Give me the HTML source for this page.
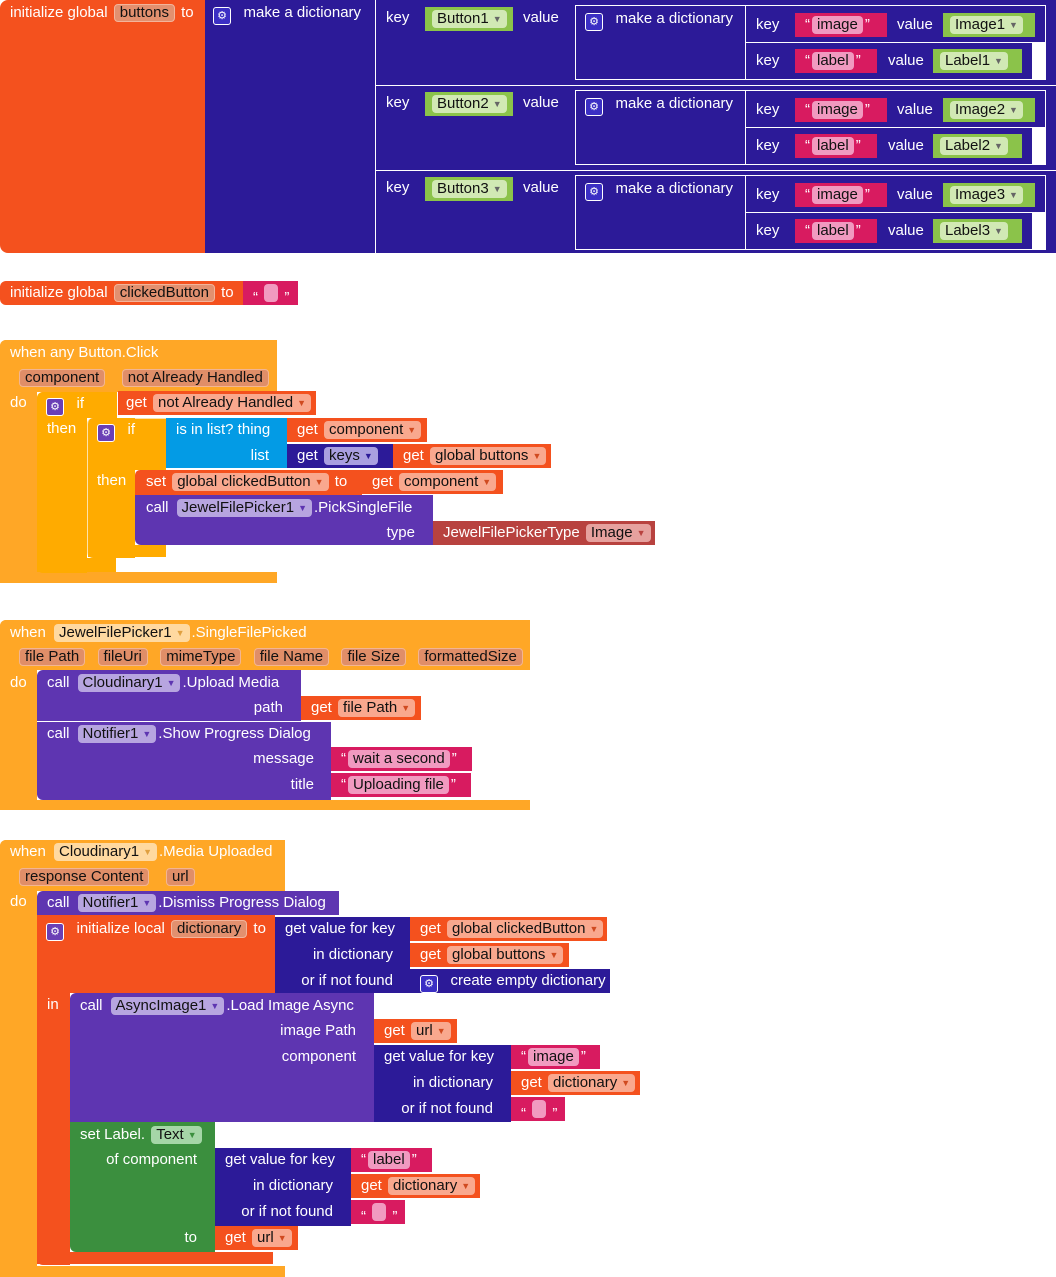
<!DOCTYPE html>
<html><head><meta charset="utf-8"><style>
body{margin:0;width:1056px;height:1277px;background:#fff;position:relative;overflow:hidden;font-family:"Liberation Sans",sans-serif}
.r{position:absolute}
.t{position:absolute;color:#fff;font-size:15px;line-height:18px;height:18px;white-space:nowrap}
.f{display:inline-block;height:18px;line-height:18px;padding:0 5px;border-radius:4px;color:#111;margin:0 2px}
.o{background:#f4511e}.n{background:#2c1a98}.g{background:#8bc34a}.m{background:#d81b60}
.e{background:#ffa726}.a{background:#ffab00}.bl{background:#039be5}.p{background:#5e35b1}
.en{background:#b8423f}.sg{background:#3b8f3e}
.fo{background:#f9a88e}.fi{background:#e2906f;border:1px solid #f3b49b;height:16px;line-height:16px}
.fn{background:#a99fe0}.fg{background:#d1e9b4}.fm{background:#f19ac0}
.fe{background:#e08e68;border:1px solid #f3b592;height:16px;line-height:16px}.fy{background:#ffd9a0}
.fp{background:#b7a5e0}.fen{background:#e6a19e}.fsg{background:#a5d6a7}
.dd{font-size:9px;color:#666;margin-left:4px;vertical-align:1px}
.gear{display:inline-block;width:16px;height:16px;border:1px solid #fff;border-radius:3px;background:#3b2fc4;color:#fff;font-size:11px;line-height:16px;text-align:center;vertical-align:-2px}
.gp{background:#6a3fb5}
.w{position:absolute;background:#fff}
</style></head><body>

<!-- BLOCK 1 -->
<div class="r o" style="left:0;top:0;width:206px;height:253px;border-radius:8px 0 0 8px"></div>
<div class="r n" style="left:205px;top:0;width:851px;height:253px"></div>
<div class="t" style="left:10px;top:4px">initialize global <span class="f fi">buttons</span> to</div>
<div class="t" style="left:213px;top:4px"><span class="gear">⚙</span>&nbsp;&nbsp; make a dictionary</div>
<div class="w" style="left:375px;top:0;width:1px;height:253px"></div>
<div class="w" style="left:375px;top:85px;width:681px;height:1px"></div>
<div class="w" style="left:375px;top:170px;width:681px;height:1px"></div>

<!-- row 1 -->
<div class="t" style="left:386px;top:9px">key</div>
<div class="r g" style="left:425px;top:7px;width:88px;height:24px"></div>
<div class="t" style="left:430px;top:10px"><span class="f fg">Button1<span class="dd">▼</span></span></div>
<div class="t" style="left:523px;top:9px">value</div>
<div class="w" style="left:575px;top:5px;width:471px;height:1px"></div>
<div class="w" style="left:575px;top:5px;width:1px;height:74px"></div>
<div class="w" style="left:575px;top:79px;width:471px;height:1px"></div>
<div class="w" style="left:745px;top:5px;width:1px;height:74px"></div>
<div class="w" style="left:745px;top:42px;width:301px;height:1px"></div>
<div class="w" style="left:1032px;top:42px;width:14px;height:38px"></div>
<div class="w" style="left:1045px;top:5px;width:1px;height:38px"></div>
<div class="t" style="left:585px;top:10px"><span class="gear">⚙</span>&nbsp;&nbsp; make a dictionary</div>
<div class="t" style="left:756px;top:16px">key</div>
<div class="r m" style="left:795px;top:13px;width:92px;height:24px"></div>
<div class="t" style="left:805px;top:16px">“<span class="f fm">image</span>”</div>
<div class="t" style="left:897px;top:16px">value</div>
<div class="r g" style="left:943px;top:13px;width:92px;height:24px"></div>
<div class="t" style="left:948px;top:16px"><span class="f fg">Image1<span class="dd">▼</span></span></div>
<div class="t" style="left:756px;top:52px">key</div>
<div class="r m" style="left:795px;top:49px;width:82px;height:24px"></div>
<div class="t" style="left:805px;top:52px">“<span class="f fm">label</span>”</div>
<div class="t" style="left:888px;top:52px">value</div>
<div class="r g" style="left:933px;top:49px;width:89px;height:24px"></div>
<div class="t" style="left:938px;top:52px"><span class="f fg">Label1<span class="dd">▼</span></span></div>

<!-- row 2 -->
<div class="t" style="left:386px;top:94px">key</div>
<div class="r g" style="left:425px;top:92px;width:88px;height:24px"></div>
<div class="t" style="left:430px;top:95px"><span class="f fg">Button2<span class="dd">▼</span></span></div>
<div class="t" style="left:523px;top:94px">value</div>
<div class="w" style="left:575px;top:90px;width:471px;height:1px"></div>
<div class="w" style="left:575px;top:90px;width:1px;height:74px"></div>
<div class="w" style="left:575px;top:164px;width:471px;height:1px"></div>
<div class="w" style="left:745px;top:90px;width:1px;height:74px"></div>
<div class="w" style="left:745px;top:127px;width:301px;height:1px"></div>
<div class="w" style="left:1032px;top:127px;width:14px;height:38px"></div>
<div class="w" style="left:1045px;top:90px;width:1px;height:38px"></div>
<div class="t" style="left:585px;top:95px"><span class="gear">⚙</span>&nbsp;&nbsp; make a dictionary</div>
<div class="t" style="left:756px;top:101px">key</div>
<div class="r m" style="left:795px;top:98px;width:92px;height:24px"></div>
<div class="t" style="left:805px;top:101px">“<span class="f fm">image</span>”</div>
<div class="t" style="left:897px;top:101px">value</div>
<div class="r g" style="left:943px;top:98px;width:92px;height:24px"></div>
<div class="t" style="left:948px;top:101px"><span class="f fg">Image2<span class="dd">▼</span></span></div>
<div class="t" style="left:756px;top:137px">key</div>
<div class="r m" style="left:795px;top:134px;width:82px;height:24px"></div>
<div class="t" style="left:805px;top:137px">“<span class="f fm">label</span>”</div>
<div class="t" style="left:888px;top:137px">value</div>
<div class="r g" style="left:933px;top:134px;width:89px;height:24px"></div>
<div class="t" style="left:938px;top:137px"><span class="f fg">Label2<span class="dd">▼</span></span></div>

<!-- row 3 -->
<div class="t" style="left:386px;top:179px">key</div>
<div class="r g" style="left:425px;top:177px;width:88px;height:24px"></div>
<div class="t" style="left:430px;top:180px"><span class="f fg">Button3<span class="dd">▼</span></span></div>
<div class="t" style="left:523px;top:179px">value</div>
<div class="w" style="left:575px;top:175px;width:471px;height:1px"></div>
<div class="w" style="left:575px;top:175px;width:1px;height:74px"></div>
<div class="w" style="left:575px;top:249px;width:471px;height:1px"></div>
<div class="w" style="left:745px;top:175px;width:1px;height:74px"></div>
<div class="w" style="left:745px;top:212px;width:301px;height:1px"></div>
<div class="w" style="left:1032px;top:212px;width:14px;height:38px"></div>
<div class="w" style="left:1045px;top:175px;width:1px;height:38px"></div>
<div class="t" style="left:585px;top:180px"><span class="gear">⚙</span>&nbsp;&nbsp; make a dictionary</div>
<div class="t" style="left:756px;top:186px">key</div>
<div class="r m" style="left:795px;top:183px;width:92px;height:24px"></div>
<div class="t" style="left:805px;top:186px">“<span class="f fm">image</span>”</div>
<div class="t" style="left:897px;top:186px">value</div>
<div class="r g" style="left:943px;top:183px;width:92px;height:24px"></div>
<div class="t" style="left:948px;top:186px"><span class="f fg">Image3<span class="dd">▼</span></span></div>
<div class="t" style="left:756px;top:222px">key</div>
<div class="r m" style="left:795px;top:219px;width:82px;height:24px"></div>
<div class="t" style="left:805px;top:222px">“<span class="f fm">label</span>”</div>
<div class="t" style="left:888px;top:222px">value</div>
<div class="r g" style="left:933px;top:219px;width:89px;height:24px"></div>
<div class="t" style="left:938px;top:222px"><span class="f fg">Label3<span class="dd">▼</span></span></div>

<!-- BLOCK 2 -->
<div class="r o" style="left:0;top:281px;width:244px;height:24px;border-radius:6px 0 0 6px"></div>
<div class="t" style="left:10px;top:284px">initialize global <span class="f fi">clickedButton</span> to</div>
<div class="r m" style="left:243px;top:281px;width:55px;height:24px"></div>
<div class="t" style="left:253px;top:284px">“ <span class="f fm" style="padding:0 7px"></span> ”</div>

<!-- BLOCK 3 -->
<div class="r e" style="left:0;top:340px;width:277px;height:52px;border-radius:6px 0 0 0"></div>
<div class="r e" style="left:0;top:340px;width:37px;height:243px;border-radius:6px 0 0 6px"></div>
<div class="r e" style="left:0;top:572px;width:277px;height:11px"></div>
<div class="t" style="left:10px;top:344px">when any Button.Click</div>
<div class="t" style="left:17px;top:369px"><span class="f fe">component</span> &nbsp; <span class="f fe">not Already Handled</span></div>
<div class="t" style="left:10px;top:394px">do</div>
<div class="r a" style="left:37px;top:392px;width:80px;height:26px;border-radius:6px 0 0 0"></div>
<div class="r a" style="left:37px;top:392px;width:50px;height:181px;border-radius:6px 0 0 6px"></div>
<div class="r a" style="left:37px;top:558px;width:79px;height:14px"></div>
<div class="t" style="left:46px;top:395px"><span class="gear gp">⚙</span>&nbsp;&nbsp; if</div>
<div class="t" style="left:47px;top:420px">then</div>
<div class="r o" style="left:118px;top:391px;width:198px;height:24px"></div>
<div class="t" style="left:126px;top:394px">get <span class="f fo">not Already Handled<span class="dd" style="color:#d04a20">▼</span></span></div>
<div class="r a" style="left:87px;top:418px;width:79px;height:52px;border-radius:6px 0 0 0;border-left:1px solid #ffe2a8;border-top:1px solid #ffe2a8;box-sizing:border-box"></div>
<div class="r a" style="left:87px;top:418px;width:48px;height:140px;border-radius:6px 0 0 6px;border-left:1px solid #ffe2a8;box-sizing:border-box"></div>
<div class="r a" style="left:88px;top:545px;width:78px;height:12px"></div>
<div class="t" style="left:97px;top:421px"><span class="gear gp">⚙</span>&nbsp;&nbsp; if</div>
<div class="t" style="left:97px;top:472px">then</div>
<div class="r bl" style="left:166px;top:418px;width:121px;height:50px"></div>
<div class="t" style="left:176px;top:421px">is in list? thing</div>
<div class="t" style="left:166px;top:447px;width:103px;text-align:right">list</div>
<div class="r o" style="left:287px;top:418px;width:140px;height:24px"></div>
<div class="t" style="left:297px;top:421px">get <span class="f fo">component<span class="dd" style="color:#d04a20">▼</span></span></div>
<div class="r n" style="left:287px;top:444px;width:106px;height:24px"></div>
<div class="t" style="left:297px;top:447px">get <span class="f fn">keys<span class="dd" style="color:#2c1a98">▼</span></span></div>
<div class="r o" style="left:393px;top:444px;width:158px;height:24px"></div>
<div class="t" style="left:403px;top:447px">get <span class="f fo">global buttons<span class="dd" style="color:#d04a20">▼</span></span></div>
<div class="r o" style="left:135px;top:470px;width:227px;height:25px;border-radius:5px 0 0 0"></div>
<div class="t" style="left:146px;top:473px">set <span class="f fo">global clickedButton<span class="dd" style="color:#d04a20">▼</span></span> to</div>
<div class="r o" style="left:362px;top:470px;width:141px;height:24px"></div>
<div class="t" style="left:372px;top:473px">get <span class="f fo">component<span class="dd" style="color:#d04a20">▼</span></span></div>
<div class="r p" style="left:135px;top:495px;width:298px;height:50px;border-radius:0 0 0 6px"></div>
<div class="t" style="left:146px;top:499px">call<span class="f fp" style="margin-left:8px">JewelFilePicker1<span class="dd" style="color:#5e35b1">▼</span></span>.PickSingleFile</div>
<div class="t" style="left:135px;top:524px;width:280px;text-align:right">type</div>
<div class="r en" style="left:433px;top:521px;width:222px;height:24px"></div>
<div class="t" style="left:443px;top:524px">JewelFilePickerType <span class="f fen">Image<span class="dd" style="color:#b8423f">▼</span></span></div>

<!-- BLOCK 4 -->
<div class="r e" style="left:0;top:620px;width:530px;height:50px;border-radius:6px 0 0 0"></div>
<div class="r e" style="left:0;top:620px;width:37px;height:190px;border-radius:6px 0 0 6px"></div>
<div class="r e" style="left:0;top:800px;width:530px;height:10px"></div>
<div class="t" style="left:10px;top:624px">when <span class="f fy" style="margin-left:4px">JewelFilePicker1<span class="dd" style="color:#e0a040">▼</span></span>.SingleFilePicked</div>
<div class="t" style="left:17px;top:648px"><span class="f fe">file Path</span>&nbsp;&nbsp;<span class="f fe">fileUri</span>&nbsp;&nbsp;<span class="f fe">mimeType</span>&nbsp;&nbsp;<span class="f fe">file Name</span>&nbsp;&nbsp;<span class="f fe">file Size</span>&nbsp;&nbsp;<span class="f fe">formattedSize</span></div>
<div class="t" style="left:10px;top:674px">do</div>
<div class="r p" style="left:37px;top:670px;width:264px;height:51px;border-radius:6px 0 0 0"></div>
<div class="t" style="left:47px;top:674px">call<span class="f fp" style="margin-left:8px">Cloudinary1<span class="dd" style="color:#5e35b1">▼</span></span>.Upload Media</div>
<div class="t" style="left:37px;top:699px;width:246px;text-align:right">path</div>
<div class="r o" style="left:301px;top:696px;width:120px;height:24px"></div>
<div class="t" style="left:311px;top:699px">get <span class="f fo">file Path<span class="dd" style="color:#d04a20">▼</span></span></div>
<div class="r p" style="left:37px;top:722px;width:294px;height:78px;border-radius:0 0 0 6px"></div>
<div class="t" style="left:47px;top:725px">call<span class="f fp" style="margin-left:8px">Notifier1<span class="dd" style="color:#5e35b1">▼</span></span>.Show Progress Dialog</div>
<div class="t" style="left:37px;top:750px;width:277px;text-align:right">message</div>
<div class="t" style="left:37px;top:776px;width:277px;text-align:right">title</div>
<div class="r m" style="left:331px;top:747px;width:141px;height:24px"></div>
<div class="t" style="left:341px;top:750px">“<span class="f fm">wait a second</span>”</div>
<div class="r m" style="left:331px;top:773px;width:140px;height:24px"></div>
<div class="t" style="left:341px;top:776px">“<span class="f fm">Uploading file</span>”</div>

<!-- BLOCK 5 -->
<div class="r e" style="left:0;top:840px;width:285px;height:51px;border-radius:6px 0 0 0"></div>
<div class="r e" style="left:0;top:840px;width:37px;height:437px;border-radius:6px 0 0 6px"></div>
<div class="r e" style="left:0;top:1266px;width:285px;height:11px"></div>
<div class="t" style="left:10px;top:843px">when <span class="f fy" style="margin-left:4px">Cloudinary1<span class="dd" style="color:#e0a040">▼</span></span>.Media Uploaded</div>
<div class="t" style="left:17px;top:868px"><span class="f fe">response Content</span>&nbsp;&nbsp;&nbsp;<span class="f fe">url</span></div>
<div class="t" style="left:10px;top:893px">do</div>
<div class="r p" style="left:37px;top:891px;width:302px;height:24px;border-radius:6px 0 0 0"></div>
<div class="t" style="left:47px;top:894px">call<span class="f fp" style="margin-left:8px">Notifier1<span class="dd" style="color:#5e35b1">▼</span></span>.Dismiss Progress Dialog</div>

<div class="r o" style="left:37px;top:915px;width:238px;height:78px"></div>
<div class="r o" style="left:37px;top:915px;width:33px;height:350px;border-radius:0 0 0 6px"></div>
<div class="r o" style="left:37px;top:1252px;width:236px;height:12px"></div>
<div class="t" style="left:46px;top:920px"><span class="gear gp">⚙</span>&nbsp;&nbsp; initialize local <span class="f fi">dictionary</span> to</div>
<div class="t" style="left:47px;top:996px">in</div>
<div class="r n" style="left:275px;top:917px;width:135px;height:76px"></div>
<div class="t" style="left:285px;top:920px">get value for key</div>
<div class="t" style="left:275px;top:946px;width:118px;text-align:right">in dictionary</div>
<div class="t" style="left:275px;top:972px;width:118px;text-align:right">or if not found</div>
<div class="r o" style="left:410px;top:917px;width:197px;height:24px"></div>
<div class="t" style="left:420px;top:920px">get <span class="f fo">global clickedButton<span class="dd" style="color:#d04a20">▼</span></span></div>
<div class="r o" style="left:410px;top:943px;width:159px;height:24px"></div>
<div class="t" style="left:420px;top:946px">get <span class="f fo">global buttons<span class="dd" style="color:#d04a20">▼</span></span></div>
<div class="r n" style="left:410px;top:969px;width:200px;height:24px"></div>
<div class="t" style="left:420px;top:972px"><span class="gear">⚙</span>&nbsp;&nbsp; create empty dictionary</div>

<div class="r p" style="left:70px;top:993px;width:304px;height:129px;border-radius:6px 0 0 0"></div>
<div class="t" style="left:80px;top:997px">call<span class="f fp" style="margin-left:8px">AsyncImage1<span class="dd" style="color:#5e35b1">▼</span></span>.Load Image Async</div>
<div class="t" style="left:70px;top:1022px;width:286px;text-align:right">image Path</div>
<div class="t" style="left:70px;top:1048px;width:286px;text-align:right">component</div>
<div class="r o" style="left:374px;top:1019px;width:83px;height:24px"></div>
<div class="t" style="left:384px;top:1022px">get <span class="f fo">url<span class="dd" style="color:#d04a20">▼</span></span></div>
<div class="r n" style="left:374px;top:1045px;width:137px;height:77px"></div>
<div class="t" style="left:384px;top:1048px">get value for key</div>
<div class="t" style="left:374px;top:1074px;width:119px;text-align:right">in dictionary</div>
<div class="t" style="left:374px;top:1100px;width:119px;text-align:right">or if not found</div>
<div class="r m" style="left:511px;top:1045px;width:89px;height:24px"></div>
<div class="t" style="left:521px;top:1048px">“<span class="f fm">image</span>”</div>
<div class="r o" style="left:511px;top:1071px;width:129px;height:24px"></div>
<div class="t" style="left:521px;top:1074px">get <span class="f fo">dictionary<span class="dd" style="color:#d04a20">▼</span></span></div>
<div class="r m" style="left:511px;top:1097px;width:54px;height:24px"></div>
<div class="t" style="left:521px;top:1100px">“ <span class="f fm" style="padding:0 7px"></span> ”</div>

<div class="r sg" style="left:70px;top:1122px;width:145px;height:130px;border-radius:0 0 0 6px"></div>
<div class="t" style="left:80px;top:1126px">set Label. <span class="f fsg">Text<span class="dd" style="color:#3b8f3e">▼</span></span></div>
<div class="t" style="left:70px;top:1151px;width:127px;text-align:right">of component</div>
<div class="t" style="left:70px;top:1229px;width:127px;text-align:right">to</div>
<div class="r n" style="left:215px;top:1148px;width:136px;height:78px"></div>
<div class="t" style="left:225px;top:1151px">get value for key</div>
<div class="t" style="left:215px;top:1177px;width:118px;text-align:right">in dictionary</div>
<div class="t" style="left:215px;top:1203px;width:118px;text-align:right">or if not found</div>
<div class="r m" style="left:351px;top:1148px;width:81px;height:24px"></div>
<div class="t" style="left:361px;top:1151px">“<span class="f fm">label</span>”</div>
<div class="r o" style="left:351px;top:1174px;width:129px;height:24px"></div>
<div class="t" style="left:361px;top:1177px">get <span class="f fo">dictionary<span class="dd" style="color:#d04a20">▼</span></span></div>
<div class="r m" style="left:351px;top:1200px;width:54px;height:24px"></div>
<div class="t" style="left:361px;top:1203px">“ <span class="f fm" style="padding:0 7px"></span> ”</div>
<div class="r o" style="left:215px;top:1226px;width:83px;height:24px"></div>
<div class="t" style="left:225px;top:1229px">get <span class="f fo">url<span class="dd" style="color:#d04a20">▼</span></span></div>

</body></html>
